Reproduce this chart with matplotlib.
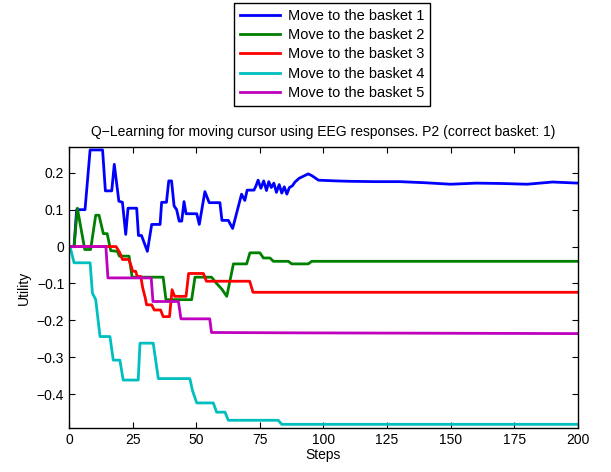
import matplotlib
matplotlib.use("Agg")
import matplotlib.pyplot as plt

plt.rcParams['font.family'] = ['Liberation Sans', 'DejaVu Sans']

# === Data (breakpoints) ===
steps_b1 = [0, 2, 3, 6.3, 8.3, 13.2, 14.3, 16.8, 17.8, 19.6, 21, 22.3, 23.2, 26.6, 27.3, 28.5,
            30.8, 32.5, 35.8, 36.4, 38.3, 39.2, 40.3, 41.3, 42.3, 43.3, 44.3, 45.2, 46, 50.2,
            51.2, 53.4, 55.1, 59.3, 60.1, 62.6, 64.3, 67.8, 69.1, 70, 72.7, 73.5, 74.3, 75.4,
            76.5, 77.6, 78.5, 79.5, 80.5, 81.5, 82.6, 83.6, 84.6, 85.6, 86.6, 87.8, 88.8, 90.4,
            92.5, 94, 95.5, 98, 105, 110, 120, 130, 140, 150, 160, 170, 180, 190, 200]
util_b1 = [0, 0, 0.1, 0.1, 0.262, 0.262, 0.151, 0.151, 0.223, 0.123, 0.12, 0.033, 0.104, 0.104, 0.03, 0.03,
           -0.013, 0.06, 0.06, 0.12, 0.12, 0.178, 0.178, 0.11, 0.10, 0.069, 0.069, 0.122, 0.089, 0.089,
           0.06, 0.149, 0.119, 0.119, 0.071, 0.071, 0.049, 0.142, 0.125, 0.153, 0.153, 0.165, 0.18, 0.158,
           0.178, 0.152, 0.176, 0.16, 0.172, 0.147, 0.168, 0.145, 0.162, 0.142, 0.16, 0.165, 0.175, 0.185,
           0.192, 0.197, 0.192, 0.18, 0.178, 0.177, 0.176, 0.176, 0.173, 0.169, 0.172, 0.171, 0.169, 0.175, 0.172]

steps_b2 = [0, 2, 3.3, 6.2, 8.5, 10.5, 11.8, 13.5, 15, 16.4, 19, 19.8, 23.6, 24.8, 27.2, 37, 38.1,
            48.2, 49.5, 56, 58, 60, 62, 63.3, 64.6, 69.8, 71.1, 75, 76.4, 79, 80.3, 86.2, 87.5,
            94, 95.4, 200]
util_b2 = [0, 0, 0.104, -0.008, -0.008, 0.085, 0.085, 0.035, 0.035, -0.011, -0.013, -0.026, -0.026,
           -0.083, -0.083, -0.083, -0.144, -0.144, -0.083, -0.083, -0.1, -0.115, -0.135, -0.091,
           -0.047, -0.047, -0.017, -0.017, -0.031, -0.031, -0.04, -0.04, -0.047, -0.047, -0.04, -0.04]

steps_b3 = [0, 18.5, 20, 21, 23.5, 24.5, 25, 26.2, 26.8, 28.2, 29, 30, 30.5, 32.5, 33.5, 36, 37,
            39.5, 40.5, 41.5, 46, 47, 52.8, 54, 71, 72.3, 200]
util_b3 = [0, 0, -0.017, -0.035, -0.035, -0.054, -0.067, -0.067, -0.081, -0.081, -0.113, -0.14,
           -0.158, -0.158, -0.172, -0.172, -0.19, -0.19, -0.117, -0.135, -0.135, -0.073, -0.073,
           -0.094, -0.094, -0.124, -0.124]

steps_b4 = [0, 0.4, 2, 8.3, 9.2, 10.5, 12.2, 16.1, 17.4, 20, 21.3, 27.2, 27.9, 33.1, 35.1, 47.5,
            48.5, 50.2, 56.7, 58, 61.3, 62.6, 82.2, 83.6, 200]
util_b4 = [0, 0, -0.044, -0.044, -0.126, -0.144, -0.244, -0.244, -0.308, -0.308, -0.362, -0.362,
           -0.262, -0.262, -0.358, -0.358, -0.39, -0.424, -0.424, -0.449, -0.449, -0.471, -0.471,
           -0.482, -0.482]

steps_b5 = [0, 14.5, 15.3, 32.3, 33, 43, 44, 55.3, 56, 90, 200]
util_b5 = [0, 0, -0.085, -0.085, -0.149, -0.149, -0.196, -0.196, -0.233, -0.234, -0.236]

labels = ['Move to the basket 1', 'Move to the basket 2', 'Move to the basket 3',
          'Move to the basket 4', 'Move to the basket 5']
colors = ['#0000ff', '#008000', '#ff0000', '#00bfbf', '#bf00bf']

y_ticks = [-0.4, -0.3, -0.2, -0.1, 0, 0.1, 0.2]
y_labels = ['\u22120.4', '\u22120.3', '\u22120.2', '\u22120.1', '0', '0.1', '0.2']
x_ticks = [0, 25, 50, 75, 100, 125, 150, 175, 200]

# === Plotting ===
fig = plt.figure(figsize=(6.11, 4.72), dpi=100)
ax = fig.add_axes([0.1129, 0.0932, 0.8331, 0.5954])

series = [(steps_b1, util_b1), (steps_b2, util_b2), (steps_b3, util_b3),
          (steps_b4, util_b4), (steps_b5, util_b5)]
for (xs, ys), lab, col in zip(series, labels, colors):
    ax.plot(xs, ys, color=col, lw=2, label=lab)

ax.set_xlim(0, 200)
ax.set_ylim(-0.492, 0.27)
ax.set_xticks(x_ticks)
ax.set_yticks(y_ticks)
ax.set_yticklabels(y_labels)
ax.tick_params(direction='in', top=True, right=True, labelsize=10, length=4)
for sp in ax.spines.values():
    sp.set_linewidth(1)

ax.set_xlabel('Steps', fontsize=10, labelpad=1)
ax.set_ylabel('Utility', fontsize=10)
ax.set_title('Q\u2212Learning for moving cursor using EEG responses. P2 (correct basket: 1)',
             fontsize=10, pad=8)

fig.legend(loc='upper center', bbox_to_anchor=(0.543, 0.994), fontsize=10.5,
           labelspacing=0.37, handlelength=2.8, handletextpad=0.5, borderpad=0.4,
           borderaxespad=0, fancybox=False, edgecolor='black', framealpha=1)

fig.savefig('out.png', dpi=100)
